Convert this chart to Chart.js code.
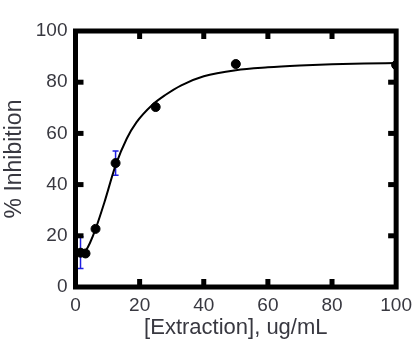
<!DOCTYPE html>
<html>
<head>
<meta charset="utf-8">
<script src="https://cdn.jsdelivr.net/npm/chart.js@4"></script>
<style>
  body { margin: 0; background: #fff; }
  #wrap { width: 419px; height: 343px; }
</style>
</head>
<body>
<div id="wrap"><canvas id="myChart" width="419" height="343"></canvas></div>
<script>
// measured points
var concX = [1.5625, 3.125, 6.25, 12.5, 25, 50, 100];
var inhibition = [13.4, 13.1, 22.7, 48.4, 70.3, 87.1, 86.7];
var inhibitionErr = [6.2, 0, 0, 4.7, 0, 0, 0];

// fitted curve
var fitX = [1.56, 3.125, 4.5, 6.25, 9, 12.5, 16, 19, 24, 28, 33, 40, 50, 60, 70, 80, 90, 100];
var fitY = [12, 14, 17.2, 22.6, 33, 47.5, 58, 64.3, 71.2, 75, 78.8, 82.3, 84.7, 85.8, 86.5, 87, 87.3, 87.5];

var tickValues = [0, 20, 40, 60, 80, 100];

var FONT = "'Liberation Sans', Arial, sans-serif";
var TEXT = '#383840';

function pairs(xs, ys) {
    return xs.map(function (x, i) { return { x: x, y: ys[i] }; });
}

var boxPlugin = {
    id: 'boxPlugin',
    beforeDatasetsDraw: function (chart) {
        // blue error bars
        var ctx = chart.ctx, xs = chart.scales.x, ys = chart.scales.y;
        ctx.save();
        ctx.strokeStyle = '#1f1fe0';
        ctx.lineWidth = 1.5;
        concX.forEach(function (c, i) {
            var e = inhibitionErr[i];
            if (!e) return;
            var px = xs.getPixelForValue(c);
            var y1 = ys.getPixelForValue(inhibition[i] + e);
            var y2 = ys.getPixelForValue(inhibition[i] - e);
            ctx.beginPath();
            ctx.moveTo(px, y1); ctx.lineTo(px, y2);
            ctx.moveTo(px - 3, y1); ctx.lineTo(px + 3, y1);
            ctx.moveTo(px - 3, y2); ctx.lineTo(px + 3, y2);
            ctx.stroke();
        });
        ctx.restore();
    },
    afterDraw: function (chart) {
        var ctx = chart.ctx, a = chart.chartArea;
        var xs = chart.scales.x, ys = chart.scales.y;
        ctx.save();
        ctx.strokeStyle = '#000';
        ctx.lineWidth = 5;
        ctx.strokeRect(a.left, a.top, a.right - a.left, a.bottom - a.top);
        ctx.fillStyle = '#000';
        var len = 8, w = 5;
        tickValues.slice(1, -1).forEach(function (v) {
            var px = xs.getPixelForValue(v);
            ctx.fillRect(px - w / 2, a.bottom - len, w, len);
            ctx.fillRect(px - w / 2, a.top, w, len);
            var py = ys.getPixelForValue(v);
            ctx.fillRect(a.left, py - w / 2, len, w);
            ctx.fillRect(a.right - len, py - w / 2, len, w);
        });
        ctx.restore();
    }
};

var ctx = document.getElementById('myChart');

new Chart(ctx, {
    type: 'scatter',
    data: {
        datasets: [{
            type: 'line',
            data: pairs(fitX, fitY),
            borderColor: '#000',
            borderWidth: 2,
            pointRadius: 0,
            fill: false,
            cubicInterpolationMode: 'monotone'
        }, {
            data: pairs(concX, inhibition),
            backgroundColor: '#000',
            borderColor: '#000',
            pointRadius: 4.5,
            pointStyle: 'circle'
        }]
    },
    options: {
        responsive: false,
        animation: false,
        layout: { padding: { top: 31, right: 19, left: 0, bottom: 0 } },
        plugins: { legend: { display: false }, tooltip: { enabled: false } },
        scales: {
            x: {
                type: 'linear',
                min: 0, max: 100,
                afterFit: function (s) { s.height = 56; },
                afterBuildTicks: function (s) { s.ticks = tickValues.map(function (v) { return { value: v }; }); },
                grid: { display: false, drawTicks: false },
                border: { display: false },
                ticks: { color: TEXT, font: { family: FONT, size: 19 }, padding: 7, maxRotation: 0 },
                title: {
                    display: true, text: '[Extraction], ug/mL', color: TEXT,
                    font: { family: FONT, size: 22, lineHeight: 1 }, padding: { top: 0, bottom: 4 }
                }
            },
            y: {
                min: 0, max: 100,
                afterFit: function (s) { s.width = 75.5; },
                afterBuildTicks: function (s) { s.ticks = tickValues.map(function (v) { return { value: v }; }); },
                grid: { display: false, drawTicks: false },
                border: { display: false },
                ticks: { color: TEXT, font: { family: FONT, size: 19 }, padding: 8 },
                title: {
                    display: true, text: '% Inhibition', color: TEXT,
                    font: { family: FONT, size: 23, lineHeight: 1 }, padding: { top: 3, bottom: 0 }
                }
            }
        }
    },
    plugins: [boxPlugin]
});
</script>
</body>
</html>
